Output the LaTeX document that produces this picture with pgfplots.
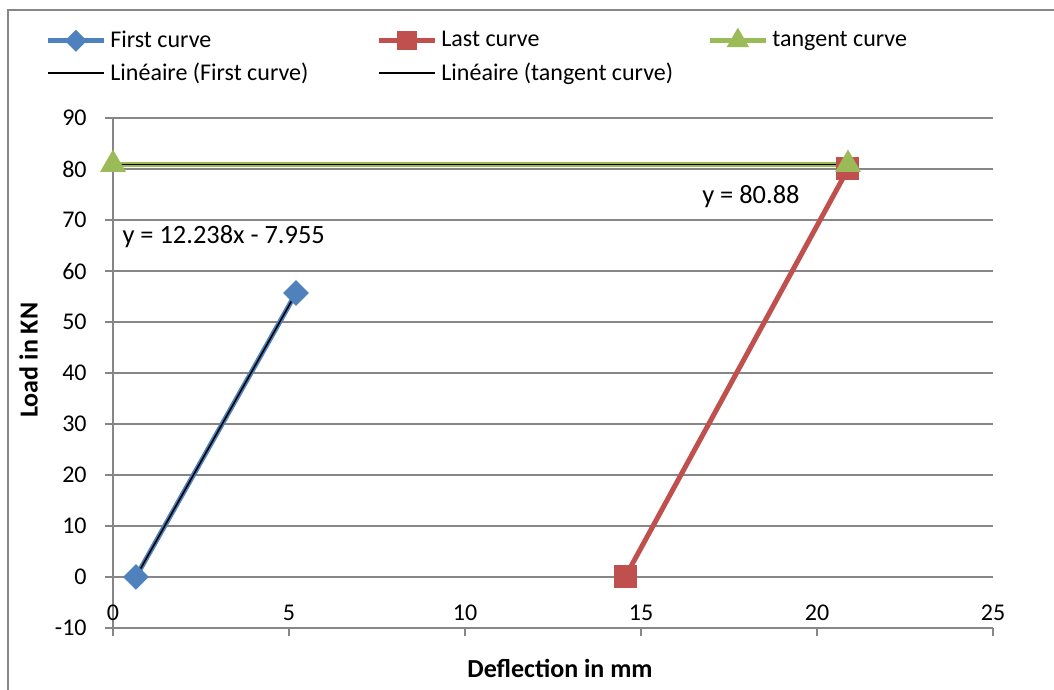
\documentclass[border=0pt]{standalone}
\usepackage{pgfplots}
\pgfplotsset{compat=1.18}
\usepackage{fontspec}
\setmainfont{Carlito}
\definecolor{cblue}{HTML}{4F81BD}
\definecolor{cred}{HTML}{C0504D}
\definecolor{cgreen}{HTML}{9BBB59}
\definecolor{axgray}{HTML}{868686}
\pgfplotsset{
  myleg/.style={legend image code/.code={%
    \draw[mark repeat=2,mark phase=2,##1,every mark/.append style={scale=0.8}]
      plot coordinates {(0pt,0pt)(14pt,0pt)(28pt,0pt)};}},
}
\newcommand{\leg}[1]{\makebox[131pt][l]{#1}}
\begin{document}
\fontsize{12}{14}\selectfont
\begin{tikzpicture}
\path[use as bounding box] (0,0) rectangle (527pt,345pt);
\draw[axgray, line width=1pt] (4pt,0) -- (4pt,340pt) -- (527pt,340pt);
\begin{axis}[
  at={(56.5pt,31pt)}, anchor=south west,
  scale only axis, width=440pt, height=255pt,
  xmin=0, xmax=25, ymin=-10, ymax=90,
  xtick={0,5,...,25}, ytick={-10,0,...,90},
  axis y line=left, axis x line*=middle,
  hide obscured x ticks=false,
  x axis line style={-, axgray, line width=0.8pt},
  y axis line style={-, axgray, line width=0.8pt},
  tick align=outside, major tick length=4pt,
  tick style={axgray, line width=0.8pt},
  xtick pos=bottom,
  ymajorgrids, grid style={axgray, line width=0.8pt},
  /pgf/number format/assume math mode=true,
  ticklabel style={font=\fontsize{12}{14}\selectfont},
  xticklabel style={yshift=-6pt},
  yticklabel style={xshift=-5pt},
  xlabel={\textbf{Deflection in mm}}, ylabel={\textbf{Load in KN}},
  label style={font=\fontsize{13}{15}\selectfont},
  xlabel style={at={(axis description cs:0.508,-0.08)}, anchor=center},
  ylabel style={at={(axis description cs:-0.096,0.525)}, anchor=center},
  legend columns=3,
  legend style={at={(-0.0773,1.18)}, anchor=north west, draw=none, fill=none,
    font=\fontsize{12}{14}\selectfont, row sep=2pt, inner sep=0pt,
    /tikz/every odd column/.append style={column sep=0pt},
    /tikz/every even column/.append style={column sep=0pt}},
  legend cell align=left,
  clip=false,
]
\addplot[cblue, line width=2.5pt, mark=square*, mark size=3.3pt, mark options={rotate=45, solid}, myleg]
  coordinates {(0.65,0) (5.20,55.68)};
\addlegendentry{\leg{First curve}}
\addplot[cred, line width=2.5pt, mark=square*, mark size=4.5pt, mark options={solid}, myleg]
  coordinates {(14.55,0) (20.88,80)};
\addlegendentry{\leg{Last curve}}
\addplot[cgreen, line width=2.5pt, mark=triangle*, mark size=5pt, mark options={solid}, myleg]
  coordinates {(0,80.88) (20.88,80.88)};
\addlegendentry{\leg{tangent curve}}
\addplot[black, line width=0.8pt, myleg] coordinates {(0.65,0) (5.20,55.68)};
\addlegendentry{\leg{Linéaire (First curve)}}
\addplot[black, line width=0.8pt, myleg] coordinates {(0,80.88) (20.88,80.88)};
\addlegendentry{\leg{Linéaire (tangent curve)}}
\node[anchor=west, inner sep=0pt, font=\fontsize{13.2}{15}\selectfont] at (axis cs:0.26,66.7) {y = 12.238x - 7.955};
\node[anchor=west, inner sep=0pt, font=\fontsize{13.2}{15}\selectfont] at (axis cs:16.73,74.5) {y = 80.88};
\end{axis}
\end{tikzpicture}
\end{document}
